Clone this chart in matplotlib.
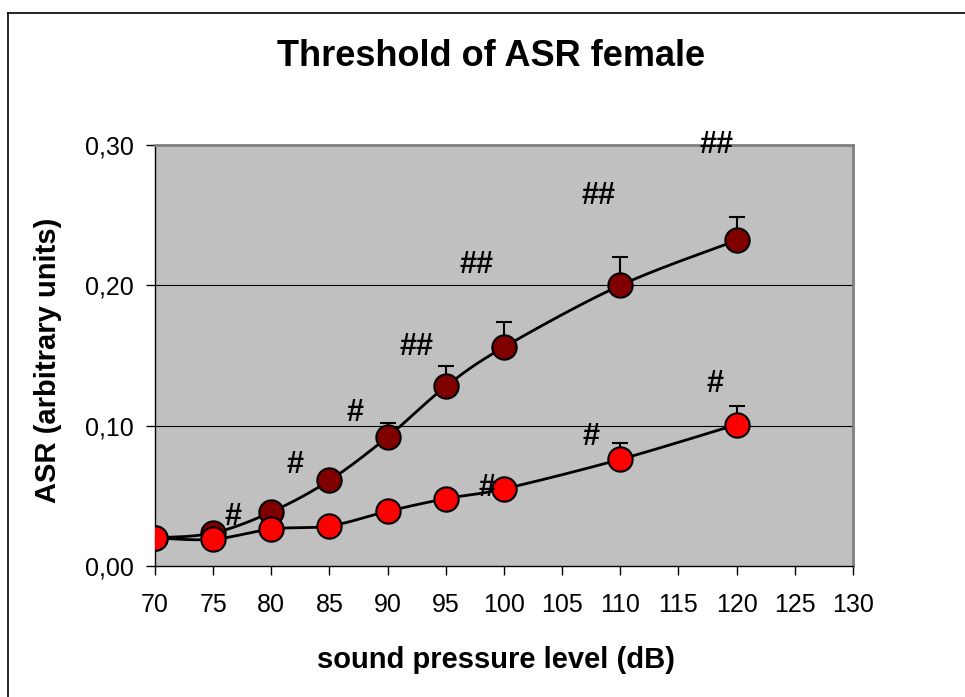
import numpy as np
import matplotlib
matplotlib.use('Agg')
import matplotlib.pyplot as plt
from matplotlib.lines import Line2D

plt.rcParams['font.family'] = ['Liberation Sans', 'DejaVu Sans']

# sound pressure levels (dB)
spl = [70, 75, 80, 85, 90, 95, 100, 110, 120]

# dark red series
asr_dark = [0.020, 0.0235, 0.0385, 0.061, 0.092, 0.128, 0.156, 0.200, 0.232]
err_dark = [0.0, 0.0, 0.0, 0.0, 0.010, 0.0145, 0.018, 0.020, 0.017]

# red series
asr_red = [0.020, 0.019, 0.0264, 0.0285, 0.039, 0.048, 0.055, 0.076, 0.1008]
err_red = [0.0, 0.0, 0.0, 0.0, 0.0, 0.0, 0.0, 0.012, 0.013]

# significance marks: (x, y, text)
marks_x = [76.7, 82.0, 87.2, 92.5, 97.6, 108.1, 118.3, 98.5, 107.5, 118.1]
marks_y = [0.035, 0.072, 0.109, 0.156, 0.2145, 0.264, 0.300, 0.0556, 0.092, 0.130]
marks_txt = ['#', '#', '#', '##', '##', '##', '##', '#', '#', '#']

x_ticks = list(range(70, 131, 5))
y_ticks = [0.0, 0.1, 0.2, 0.3]


def smooth(xs, ys, n=30):
    # Excel-like smoothed line (bezier through each point)
    p = np.column_stack([xs, ys]).astype(float)
    out = []
    for i in range(len(p) - 1):
        p0 = p[max(i - 1, 0)]
        p1 = p[i]
        p2 = p[i + 1]
        p3 = p[min(i + 2, len(p) - 1)]
        c1 = p1 + (p2 - p0) / 6.0
        c2 = p2 - (p3 - p1) / 6.0
        t = np.linspace(0, 1, n)[:, None]
        seg = ((1 - t) ** 3) * p1 + 3 * ((1 - t) ** 2) * t * c1 \
            + 3 * (1 - t) * t ** 2 * c2 + t ** 3 * p2
        out.append(seg if i == 0 else seg[1:])
    seg = np.vstack(out)
    return seg[:, 0], seg[:, 1]


fig = plt.figure(figsize=(9.65, 6.97), dpi=100)
# chart frame: only top and left edges are visible
top_y = 1 - 12.5 / 697
left_x = 8 / 965
fig.lines.append(Line2D([left_x, 1.0], [top_y, top_y], transform=fig.transFigure,
                        color='black', linewidth=1.2))
fig.lines.append(Line2D([left_x, left_x], [0.0, top_y], transform=fig.transFigure,
                        color='black', linewidth=1.2))

ax = fig.add_axes([155 / 965, 1 - 566 / 697, 698 / 965, 421 / 697])
ax.set_facecolor('#C0C0C0')
ax.set_xlim(70, 130)
ax.set_ylim(0, 0.30)

for g in [0.1, 0.2]:
    ax.axhline(g, color='black', linewidth=0.8, zorder=1)

for s in ['top', 'right']:
    ax.spines[s].set_color('#808080')
    ax.spines[s].set_linewidth(2)
for s in ['left', 'bottom']:
    ax.spines[s].set_color('black')
    ax.spines[s].set_linewidth(1)

sx, sy = smooth(spl, asr_dark)
ax.plot(sx, sy, color='black', linewidth=2, zorder=2)
sx, sy = smooth(spl, asr_red)
ax.plot(sx, sy, color='black', linewidth=2, zorder=2)

zeros = [0.0] * len(spl)
ax.errorbar(spl, asr_dark, yerr=[zeros, err_dark], fmt='none', ecolor='black',
            elinewidth=1.5, capsize=6, capthick=1.5, zorder=3)
ax.errorbar(spl, asr_red, yerr=[zeros, err_red], fmt='none', ecolor='black',
            elinewidth=1.5, capsize=6, capthick=1.5, zorder=3)

ax.plot(spl, asr_dark, linestyle='none', marker='o', markersize=17.5,
        markerfacecolor='#800000', markeredgecolor='black', markeredgewidth=1.5,
        zorder=4)
ax.plot(spl, asr_red, linestyle='none', marker='o', markersize=17.5,
        markerfacecolor='#FF0000', markeredgecolor='black', markeredgewidth=1.5,
        zorder=5)

for mx, my, mt in zip(marks_x, marks_y, marks_txt):
    ax.text(mx, my, mt, ha='center', va='center', fontsize=22,
            fontweight='bold', zorder=6, clip_on=False)

ax.set_xticks(x_ticks)
ax.set_xticklabels([str(v) for v in x_ticks])
ax.set_yticks(y_ticks)
ax.set_yticklabels([f'{v:.2f}'.replace('.', ',') for v in y_ticks])
ax.tick_params(axis='both', direction='out', length=6.5, width=1, labelsize=18,
               colors='black')
ax.tick_params(axis='x', pad=13)
ax.tick_params(axis='y', pad=9)

ax.set_xlabel('sound pressure level (dB)', fontsize=21, fontweight='bold',
              va='center')
ax.set_ylabel('ASR (arbitrary units)', fontsize=21, fontweight='bold',
              va='center')
ax.xaxis.set_label_coords(0.5 - 8 / 698, (566 - 660) / 421)
ax.yaxis.set_label_coords((48 - 155) / 698, 0.5 - 5 / 421)
fig.text(491 / 965, 1 - 57 / 697, 'Threshold of ASR female', ha='center',
         va='center', fontsize=26, fontweight='bold')

fig.savefig('out.png', dpi=100)
